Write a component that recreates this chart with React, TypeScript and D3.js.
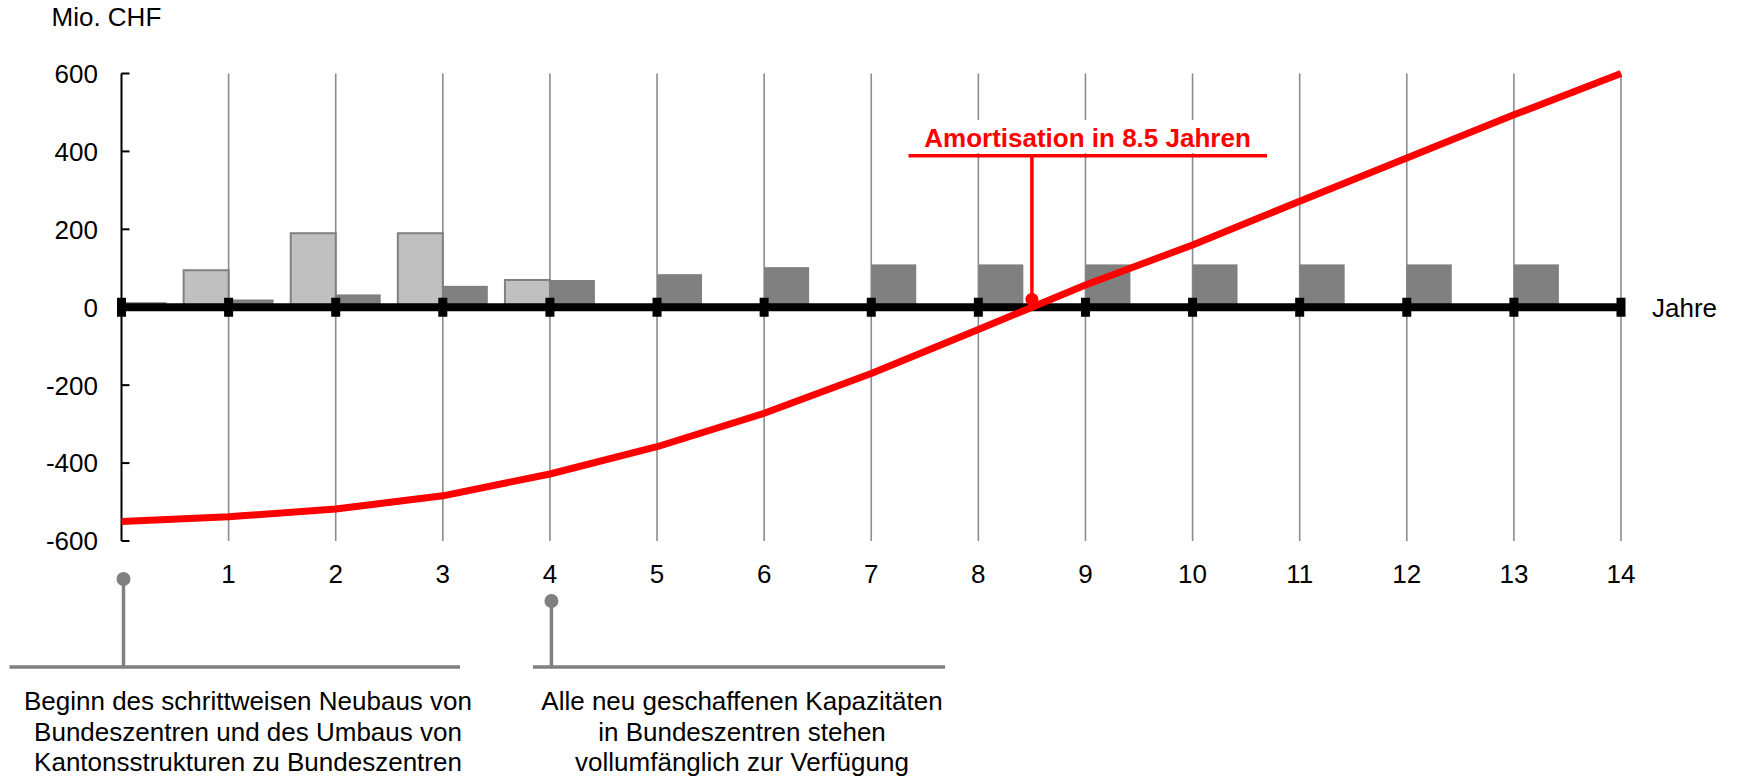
import React from "react";
import * as d3 from "d3";

// ---- data ----
const YEARS = [0, 1, 2, 3, 4, 5, 6, 7, 8, 9, 10, 11, 12, 13, 14];
const INVESTMENT = [0, 95, 190, 190, 70, 0, 0, 0, 0, 0, 0, 0, 0, 0, 0];
const SAVINGS = [13, 20, 33, 55, 70, 85, 103, 110, 110, 110, 110, 110, 110, 110, 0];
const CUMULATIVE = [-550, -538, -518, -484, -428, -358, -272, -170, -57, 57, 160, 272, 383, 494, 600];
const Y_TICKS = [600, 400, 200, 0, -200, -400, -600];
const X_LABELS = ["", "1", "2", "3", "4", "5", "6", "7", "8", "9", "10", "11", "12", "13", "14"];
const BREAK_EVEN_YEAR = 8.5;
const BREAK_EVEN_LABEL = "Amortisation in 8.5 Jahren";
const BREAK_EVEN_LEVEL = 389; // top of the leader line, chart units
const BREAK_EVEN_DOT = 20;
const NOTE_LEFT_YEAR = 0;
const NOTE_RIGHT_YEAR = 4;
const NOTE_LEFT_TEXT = [
  "Beginn des schrittweisen Neubaus von",
  "Bundeszentren und des Umbaus von",
  "Kantonsstrukturen zu Bundeszentren",
];
const NOTE_RIGHT_TEXT = [
  "Alle neu geschaffenen Kapazitäten",
  "in Bundeszentren stehen",
  "vollumfänglich zur Verfügung",
];
const Y_UNIT = "Mio. CHF";
const X_UNIT = "Jahre";

const FONT = "'Liberation Sans', Arial, Helvetica, sans-serif";

export default function App() {
  const W = 1737;
  const H = 778;
  const x = d3.scaleLinear().domain([0, 14]).range([121.5, 1621]);
  const y = d3.scaleLinear().domain([-600, 600]).range([541, 73.5]);
  const step = x(1) - x(0);
  const barW = step * 0.42;

  const line = d3
    .line<number>()
    .x((_, i) => x(YEARS[i]))
    .y((d) => y(d));

  const grey = "#808080";
  const red = "#ff0000";

  const noteBaselines = [710, 741, 771];

  return (
    <svg
      width={W}
      height={H}
      style={{ position: "absolute", left: 0, top: 0, display: "block", background: "#fff" }}
      fontFamily={FONT}
    >
      {/* unit label */}
      <text x={51.5} y={26} fontSize={26} fill="#000">
        {Y_UNIT}
      </text>

      {/* vertical gridlines */}
      {YEARS.filter((v) => v > 0).map((v) => (
        <line
          key={"g" + v}
          x1={x(v)}
          x2={x(v)}
          y1={y(600)}
          y2={y(-600)}
          stroke="#8c8c8c"
          strokeWidth={1.6}
        />
      ))}

      {/* bars */}
      {YEARS.map((v, i) =>
        INVESTMENT[i] > 0 ? (
          <rect
            key={"inv" + v}
            x={x(v) - barW}
            y={y(INVESTMENT[i])}
            width={barW}
            height={y(0) - y(INVESTMENT[i])}
            fill="#c0c0c0"
            stroke={grey}
            strokeWidth={2}
          />
        ) : null
      )}
      {YEARS.map((v, i) =>
        SAVINGS[i] > 0 ? (
          <rect
            key={"sav" + v}
            x={x(v)}
            y={y(SAVINGS[i])}
            width={barW}
            height={y(0) - y(SAVINGS[i])}
            fill={grey}
          />
        ) : null
      )}

      {/* y axis */}
      <line x1={x(0)} x2={x(0)} y1={y(600)} y2={y(-600)} stroke="#000" strokeWidth={2} />
      {Y_TICKS.map((t) => (
        <g key={"yt" + t}>
          <line x1={x(0)} x2={x(0) + 8} y1={y(t)} y2={y(t)} stroke="#000" strokeWidth={2} />
          <text x={98} y={y(t)} dy="0.36em" textAnchor="end" fontSize={26} fill="#000">
            {t}
          </text>
        </g>
      ))}

      {/* x axis */}
      <line x1={x(0)} x2={x(14)} y1={y(0)} y2={y(0)} stroke="#000" strokeWidth={8} />
      {YEARS.map((v) => (
        <rect key={"xt" + v} x={x(v) - 4.5} y={y(0) - 9.5} width={9} height={19} fill="#000" />
      ))}
      {YEARS.map((v, i) =>
        X_LABELS[i] ? (
          <text
            key={"xl" + v}
            x={x(v)}
            y={574}
            dy="0.36em"
            textAnchor="middle"
            fontSize={26}
            fill="#000"
          >
            {X_LABELS[i]}
          </text>
        ) : null
      )}
      <text x={1652} y={y(0)} dy="0.36em" fontSize={26} fill="#000">
        {X_UNIT}
      </text>

      {/* cumulative line */}
      <path d={line(CUMULATIVE) || ""} fill="none" stroke={red} strokeWidth={7} strokeLinejoin="round" />

      {/* break-even annotation */}
      <rect x={909} y={120} width={358} height={33} fill="#fff" />
      <text
        x={1087.5}
        y={146.7}
        textAnchor="middle"
        fontSize={26}
        fontWeight="bold"
        fill={red}
      >
        {BREAK_EVEN_LABEL}
      </text>
      <line x1={908.5} x2={1267} y1={y(BREAK_EVEN_LEVEL)} y2={y(BREAK_EVEN_LEVEL)} stroke={red} strokeWidth={3.4} />
      <line
        x1={x(BREAK_EVEN_YEAR)}
        x2={x(BREAK_EVEN_YEAR)}
        y1={y(BREAK_EVEN_LEVEL)}
        y2={y(BREAK_EVEN_DOT)}
        stroke={red}
        strokeWidth={3.5}
      />
      <circle cx={x(BREAK_EVEN_YEAR)} cy={y(BREAK_EVEN_DOT)} r={6.5} fill={red} />

      {/* bottom notes */}
      <line x1={9.5} x2={460} y1={667} y2={667} stroke={grey} strokeWidth={3.5} />
      <line x1={x(NOTE_LEFT_YEAR) + 2} x2={x(NOTE_LEFT_YEAR) + 2} y1={579} y2={667} stroke={grey} strokeWidth={3.5} />
      <circle cx={x(NOTE_LEFT_YEAR) + 2} cy={579} r={7} fill={grey} />
      {NOTE_LEFT_TEXT.map((s, i) => (
        <text key={"nl" + i} x={248} y={noteBaselines[i]} textAnchor="middle" fontSize={26} fill="#000">
          {s}
        </text>
      ))}

      <line x1={533} x2={945} y1={667} y2={667} stroke={grey} strokeWidth={3.5} />
      <line x1={x(NOTE_RIGHT_YEAR) + 1.5} x2={x(NOTE_RIGHT_YEAR) + 1.5} y1={601} y2={667} stroke={grey} strokeWidth={3.5} />
      <circle cx={x(NOTE_RIGHT_YEAR) + 1.5} cy={601} r={7} fill={grey} />
      {NOTE_RIGHT_TEXT.map((s, i) => (
        <text key={"nr" + i} x={742} y={noteBaselines[i]} textAnchor="middle" fontSize={26} fill="#000">
          {s}
        </text>
      ))}
    </svg>
  );
}
